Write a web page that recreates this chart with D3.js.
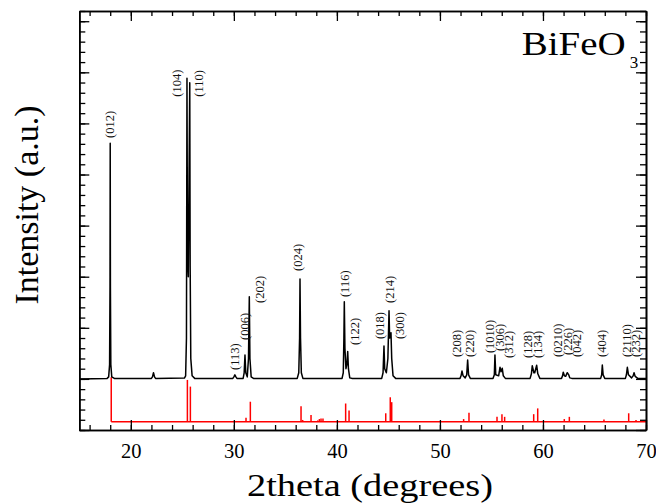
<!DOCTYPE html>
<html>
<head>
<meta charset="utf-8">
<script src="https://cdn.jsdelivr.net/npm/d3@7"></script>
<style>
    html, body { margin: 0; padding: 0; background: #fff; }
    svg { display: block; }
</style>
</head>
<body>
<div id="dataChart"></div>
<script>
// measured XRD scan, [2theta, counts]
const scanPoints = [
    [15, 500], [17.7, 505],
    [17.85, 520], [17.94, 640], [17.98, 1400], [18.0, 2805], [18.02, 1400], [18.06, 640], [18.15, 520],
    [18.4, 505], [22.0, 505], [22.1, 520], [22.2, 560], [22.3, 520], [22.4, 505],
    [25.2, 508], [25.32, 530], [25.4, 900], [25.45, 3441], [25.5, 1700], [25.58, 1500], [25.72, 3398],
    [25.76, 1600], [25.82, 700], [25.95, 530], [26.2, 505],
    [29.9, 505], [30.0, 520], [30.1, 540], [30.2, 520], [30.3, 505],
    [30.9, 505], [31.0, 560], [31.08, 734], [31.16, 560], [31.3, 520], [31.42, 700], [31.5, 1304],
    [31.56, 700], [31.68, 520], [31.9, 505],
    [36.15, 505], [36.3, 560], [36.38, 900], [36.42, 1478], [36.47, 900], [36.55, 560], [36.7, 505],
    [40.5, 505], [40.62, 560], [40.68, 900], [40.72, 1256], [40.78, 800], [40.88, 600], [40.98, 650],
    [41.05, 767], [41.12, 600], [41.25, 510], [41.5, 505],
    [44.35, 505], [44.48, 560], [44.57, 822], [44.64, 600], [44.8, 560], [44.95, 700], [45.06, 1167],
    [45.12, 900], [45.25, 952], [45.32, 700], [45.45, 530], [45.7, 505],
    [51.95, 505], [52.05, 530], [52.14, 577], [52.25, 530], [52.45, 510], [52.6, 540], [52.69, 685],
    [52.78, 540], [52.95, 505],
    [55.15, 505], [55.28, 540], [55.34, 734], [55.42, 540], [55.7, 530], [55.83, 614], [55.93, 570],
    [56.05, 604], [56.15, 530], [56.35, 505],
    [58.75, 505], [58.88, 550], [58.96, 629], [59.12, 560], [59.2, 560], [59.39, 633], [59.5, 550], [59.7, 505],
    [61.8, 505], [61.9, 530], [61.97, 565], [62.08, 530], [62.2, 525], [62.36, 561], [62.5, 540],
    [62.6, 510], [62.8, 505],
    [65.6, 505], [65.7, 540], [65.76, 636], [65.84, 540], [66.0, 505],
    [68.0, 505], [68.1, 540], [68.19, 614], [68.3, 540], [68.6, 510], [68.75, 530], [68.84, 561],
    [68.95, 525], [69.2, 505], [70, 505]
];

// reference pattern (JCPDS), relative intensity %
const refAngles = [18.1, 25.49, 25.78, 31.18, 31.6, 36.52, 36.68, 37.49, 38.14, 38.3, 38.46, 38.65,
    40.85, 41.18, 44.74, 45.18, 45.32, 52.3, 52.82, 55.54, 56.02, 56.28, 59.1, 59.49,
    62.07, 62.56, 65.92, 68.32, 69.03];
const refIntensity = [100, 94, 79, 9, 45, 35, 4, 15, 3, 6, 7, 7,
    41, 25, 19, 55, 44, 6, 20, 11, 17, 11, 17, 30,
    6, 11, 5, 19, 4];

// hkl labels: text, 2theta, counts at the label foot
const hklLabels = ['(012)', '(104)', '(110)', '(113)', '(006)', '(202)', '(024)', '(116)', '(122)',
    '(018)', '(214)', '(300)', '(208)', '(220)', '(1010)', '(306)', '(312)', '(128)', '(134)',
    '(0210)', '(226)', '(042)', '(404)', '(2110)', '(232)'];
const hklAngles = [17.93, 24.45, 26.62, 30.06, 31.08, 32.54, 36.22, 40.74, 41.76,
    44.18, 45.15, 46.12, 51.66, 52.92, 54.86, 55.83, 56.70, 58.55, 59.52,
    61.46, 62.43, 63.30, 65.73, 68.15, 69.02];
const hklCounts = [2857, 3261, 3261, 587, 881, 1243, 1556, 1301, 832,
    890, 1243, 890, 714, 714, 753, 773, 705, 705, 705,
    714, 734, 714, 714, 714, 714];

const xTicksMajor = [20, 30, 40, 50, 60, 70];

document.addEventListener('DOMContentLoaded', () => {
    const viewBoxWidth = 656
    const viewBoxHeight = 503
    const marginLeft = 79.3
    const marginRight = 10
    const marginTop = 11
    const marginBottom = 73
    const width = viewBoxWidth - marginLeft - marginRight
    const height = viewBoxHeight - marginTop - marginBottom
    const serif = 'Liberation Serif'

    const svgRoot = d3.select('#dataChart')
        .append('svg')
        .attr('width', viewBoxWidth)
        .attr('height', viewBoxHeight)
    const svg = svgRoot.append('g')
        .attr('transform', `translate(${marginLeft}, ${marginTop})`)

    const x = d3.scaleLinear().domain([15, 70]).range([0, width])
    const y = d3.scaleLinear().domain([0, 4100]).range([height, 0])
    // reference sticks sit under the scan
    const refY = d3.scaleLinear().domain([0, 100]).range([y(81), y(516)])

    // red reference sticks
    const refStart = d3.min(refAngles)
    svg.append('line')
        .attr('x1', x(refStart)).attr('x2', x(70))
        .attr('y1', refY(0)).attr('y2', refY(0))
        .attr('stroke', '#ff0000').attr('stroke-width', 1.6)
    svg.append('g')
        .selectAll('line')
        .data(refAngles)
        .enter()
        .append('line')
        .attr('x1', d => x(d)).attr('x2', d => x(d))
        .attr('y1', refY(0))
        .attr('y2', (d, i) => refY(refIntensity[i]))
        .attr('stroke', '#ff0000').attr('stroke-width', 1.5)

    // measured scan
    svg.append('path')
        .datum(scanPoints)
        .attr('fill', 'none')
        .attr('stroke', '#000')
        .attr('stroke-width', 1.5)
        .attr('stroke-linejoin', 'round')
        .attr('d', d3.line().x(d => x(d[0])).y(d => y(d[1])))

    // hkl labels
    svg.append('g')
        .selectAll('text')
        .data(hklLabels)
        .enter()
        .append('text')
        .attr('transform', (d, i) => `translate(${x(hklAngles[i])}, ${y(hklCounts[i])}) rotate(-90)`)
        .attr('dy', '0.35em')
        .attr('font-family', serif)
        .attr('font-size', '12.5px')
        .attr('fill', '#111')
        .text(d => d)

    // axes, ticks pointing inwards on all four sides
    const xMinor = d3.range(16, 71, 2)
    const yMinor = d3.range(0, 4101, 100)
    const yMajor = d3.range(0, 4101, 500)
    const styleAxis = g => {
        g.selectAll('.domain').attr('stroke', '#000').attr('stroke-width', 1.6)
        g.selectAll('.tick line').attr('stroke', '#000').attr('stroke-width', 1.3)
    }

    svg.append('g').attr('transform', `translate(0, ${height})`)
        .call(d3.axisBottom(x).tickValues(xMinor).tickSize(-5).tickSizeOuter(0).tickFormat(''))
        .call(styleAxis)
    svg.append('g').attr('transform', `translate(0, ${height})`)
        .call(d3.axisBottom(x).tickValues(xTicksMajor).tickSize(-10).tickSizeOuter(0).tickPadding(13))
        .call(styleAxis)
        .call(g => g.attr('font-family', serif))
        .call(g => g.selectAll('.tick text')
            .attr('font-family', serif)
            .attr('font-size', '20.5px')
            .attr('fill', '#000'))
    svg.append('g')
        .call(d3.axisTop(x).tickValues(xMinor).tickSize(-5).tickSizeOuter(0).tickFormat(''))
        .call(styleAxis)
    svg.append('g')
        .call(d3.axisTop(x).tickValues(xTicksMajor).tickSize(-10).tickSizeOuter(0).tickFormat(''))
        .call(styleAxis)

    svg.append('g')
        .call(d3.axisLeft(y).tickValues(yMinor).tickSize(-6).tickSizeOuter(0).tickFormat(''))
        .call(styleAxis)
    svg.append('g')
        .call(d3.axisLeft(y).tickValues(yMajor).tickSize(-10).tickSizeOuter(0).tickFormat(''))
        .call(styleAxis)
    svg.append('g').attr('transform', `translate(${width}, 0)`)
        .call(d3.axisRight(y).tickValues(yMinor).tickSize(-6).tickSizeOuter(0).tickFormat(''))
        .call(styleAxis)
    svg.append('g').attr('transform', `translate(${width}, 0)`)
        .call(d3.axisRight(y).tickValues(yMajor).tickSize(-10).tickSizeOuter(0).tickFormat(''))
        .call(styleAxis)

    // axis titles
    svg.append('text')
        .attr('x', 370 - marginLeft)
        .attr('y', height + 66)
        .attr('text-anchor', 'middle')
        .attr('font-family', serif)
        .attr('font-size', '32px')
        .attr('textLength', 246)
        .attr('lengthAdjust', 'spacingAndGlyphs')
        .attr('fill', '#000')
        .text('2theta (degrees)')
    svg.append('text')
        .attr('transform', `translate(${38 - marginLeft}, ${205 - marginTop}) rotate(-90)`)
        .attr('text-anchor', 'middle')
        .attr('font-family', serif)
        .attr('font-size', '34px')
        .attr('fill', '#000')
        .text('Intensity (a.u.)')

    // sample name
    const titleX = x(57.93)
    const titleY = y(3669)
    svg.append('text')
        .attr('x', titleX)
        .attr('y', titleY)
        .attr('font-family', serif)
        .attr('font-size', '33px')
        .attr('textLength', 104)
        .attr('lengthAdjust', 'spacingAndGlyphs')
        .attr('fill', '#000')
        .text('BiFeO')
    svg.append('text')
        .attr('x', titleX + 108)
        .attr('y', titleY + 13)
        .attr('font-family', serif)
        .attr('font-size', '17px')
        .attr('fill', '#000')
        .text('3')
});
</script>
</body>
</html>
